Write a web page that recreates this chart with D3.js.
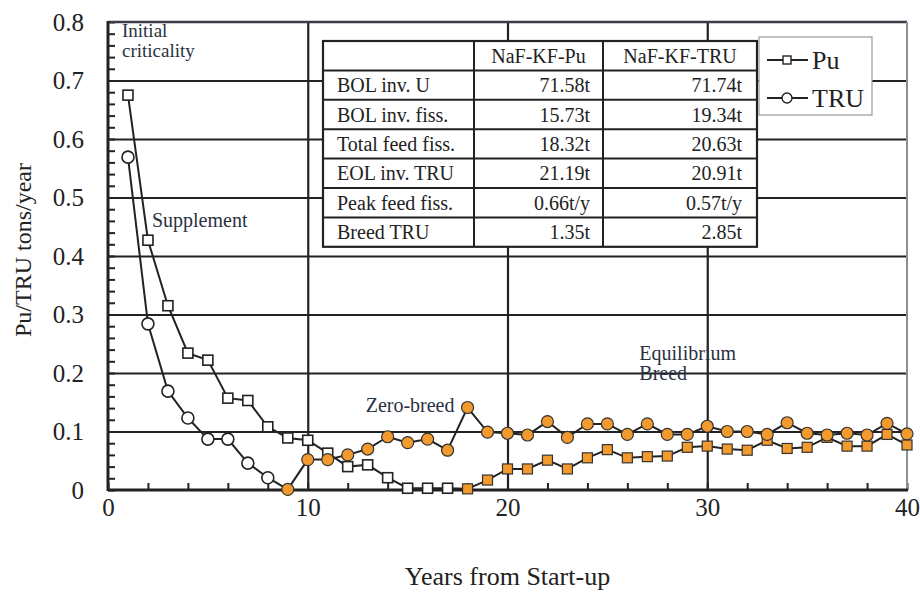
<!DOCTYPE html>
<html><head><meta charset="utf-8">
<script src="https://cdn.jsdelivr.net/npm/d3@7"></script>
<style>
body{margin:0;background:#fff;}
svg text{font-family:"Liberation Serif","Times New Roman","DejaVu Serif",serif;}
</style></head>
<body><svg id="c" width="920" height="592" font-family="Liberation Serif, Times New Roman, serif"></svg>
<script>
// ---- data ----
const years = [1,2,3,4,5,6,7,8,9,10,11,12,13,14,15,16,17,18,19,20,21,22,23,24,25,26,27,28,29,30,31,32,33,34,35,36,37,38,39,40];
const puValues = [0.675,0.427,0.315,0.234,0.222,0.157,0.153,0.108,0.089,0.085,
                  0.063,0.040,0.043,0.021,0.003,0.003,0.003,0.002,0.017,0.036,
                  0.036,0.051,0.036,0.055,0.069,0.055,0.057,0.058,0.073,0.075,
                  0.070,0.068,0.085,0.071,0.073,0.090,0.075,0.075,0.095,0.077];
const truValues = [0.569,0.284,0.169,0.123,0.087,0.087,0.046,0.021,0.001,0.052,
                   0.052,0.060,0.070,0.091,0.081,0.087,0.068,0.141,0.099,0.097,
                   0.094,0.117,0.090,0.113,0.113,0.095,0.113,0.095,0.095,0.109,
                   0.100,0.100,0.095,0.115,0.097,0.094,0.097,0.094,0.114,0.096];
const puFilledFrom = 18;   // year from which Pu markers are filled
const truFilledFrom = 9;   // year from which TRU markers are filled
const xTickLabels = ["0","10","20","30","40"];
const xTickValues = [0,10,20,30,40];
const yTickValues = [0,0.1,0.2,0.3,0.4,0.5,0.6,0.7,0.8];
const yTickLabels = ["0","0.1","0.2","0.3","0.4","0.5","0.6","0.7","0.8"];
const tableHeader = ["", "NaF-KF-Pu", "NaF-KF-TRU"];
const tableLabels = ["BOL inv. U","BOL inv. fiss.","Total feed fiss.","EOL inv. TRU","Peak feed fiss.","Breed TRU"];
const tablePu = ["71.58t","15.73t","18.32t","21.19t","0.66t/y","1.35t"];
const tableTru = ["71.74t","19.34t","20.63t","20.91t","0.57t/y","2.85t"];
const legendLabels = ["Pu","TRU"];

// ---- layout ----
const FONT = "Liberation Serif, Times New Roman, serif";
const L = 108, R = 907, T = 22, B = 490;
const svg = d3.select("#c");
const x = d3.scaleLinear().domain([0,40]).range([L,R]);
const y = d3.scaleLinear().domain([0,0.8]).range([B,T]);
const ink = "#222";
const orange = "#f39a2e";

// gridlines
const grid = svg.append("g");
grid.append("g").attr("transform",`translate(${L},0)`)
  .call(d3.axisLeft(y).tickValues([0.1,0.2,0.3,0.4,0.5,0.6,0.7]).tickSize(-(R-L)).tickFormat(""))
  .call(g=>{g.select(".domain").remove();g.selectAll("line").attr("stroke",ink).attr("stroke-width",2.2);});
grid.append("g").attr("transform",`translate(0,${B})`)
  .call(d3.axisBottom(x).tickValues([10,20,30]).tickSize(-(B-T)).tickFormat(""))
  .call(g=>{g.select(".domain").remove();g.selectAll("line").attr("stroke",ink).attr("stroke-width",2.2);});

// minor ticks
svg.append("g").attr("transform",`translate(${L},0)`)
  .call(d3.axisLeft(y).tickValues(d3.range(0,0.801,0.02)).tickSize(-7).tickFormat(""))
  .call(g=>{g.select(".domain").remove();g.selectAll("line").attr("stroke",ink).attr("stroke-width",2);});
svg.append("g").attr("transform",`translate(0,${B})`)
  .call(d3.axisBottom(x).tickValues(d3.range(0,40.1,2)).tickSize(-7).tickFormat(""))
  .call(g=>{g.select(".domain").remove();g.selectAll("line").attr("stroke",ink).attr("stroke-width",2);});

// frame
svg.append("line").attr("x1",L).attr("x2",R).attr("y1",T).attr("y2",T).attr("stroke","#3a3d44").attr("stroke-width",2.5);
svg.append("line").attr("x1",R).attr("x2",R).attr("y1",T).attr("y2",B).attr("stroke","#8a909a").attr("stroke-width",2);
svg.append("line").attr("x1",L).attr("x2",L).attr("y1",T-1).attr("y2",B+1).attr("stroke",ink).attr("stroke-width",3);
svg.append("line").attr("x1",L).attr("x2",R+1).attr("y1",B).attr("y2",B).attr("stroke",ink).attr("stroke-width",3);

// axis labels
svg.append("g").attr("transform",`translate(${L},0)`)
  .call(d3.axisLeft(y).tickValues(yTickValues).tickSize(0).tickPadding(24).tickFormat((d,i)=>yTickLabels[i]))
  .call(g=>{g.select(".domain").remove();g.attr("font-family",FONT);g.selectAll("text").attr("font-size",25).attr("fill","#222").attr("font-family",FONT);});
svg.append("g").attr("transform",`translate(0,${B})`)
  .call(d3.axisBottom(x).tickValues(xTickValues).tickSize(0).tickPadding(8).tickFormat((d,i)=>xTickLabels[i]))
  .call(g=>{g.select(".domain").remove();g.attr("font-family",FONT);g.selectAll("text").attr("font-size",25).attr("fill","#222").attr("font-family",FONT);});

svg.append("text").attr("x",(L+R)/2).attr("y",585).attr("text-anchor","middle").attr("font-family",FONT)
  .attr("font-size",26).attr("fill","#222").text("Years from Start-up");
svg.append("text").attr("transform",`translate(31,250) rotate(-90)`).attr("text-anchor","middle").attr("font-family",FONT)
  .attr("font-size",24).attr("fill","#222").text("Pu/TRU tons/year");

// series
const line = d3.line().x(d=>x(d.x)).y(d=>y(d.v));
const pu = years.map((yr,i)=>({x:yr,v:puValues[i]}));
const tru = years.map((yr,i)=>({x:yr,v:truValues[i]}));

svg.append("path").datum(pu).attr("d",line).attr("fill","none").attr("stroke",ink).attr("stroke-width",2);
svg.append("g").selectAll("rect").data(pu).join("rect")
  .attr("x",d=>x(d.x)-5).attr("y",d=>y(d.v)-5).attr("width",10).attr("height",10)
  .attr("fill",d=>d.x>=puFilledFrom?orange:"#fff")
  .attr("stroke",d=>d.x>=puFilledFrom?"#333":ink).attr("stroke-width",d=>d.x>=puFilledFrom?1.2:1.6);

svg.append("path").datum(tru).attr("d",line).attr("fill","none").attr("stroke",ink).attr("stroke-width",2);
svg.append("g").selectAll("circle").data(tru).join("circle")
  .attr("cx",d=>x(d.x)).attr("cy",d=>y(d.v)).attr("r",6)
  .attr("fill",d=>d.x>=truFilledFrom?orange:"#fff")
  .attr("stroke",d=>d.x>=truFilledFrom?"#333":ink).attr("stroke-width",d=>d.x>=truFilledFrom?1.2:1.6);

// annotations
const ann = svg.append("g").attr("fill","#2a3142").attr("font-size",20).attr("font-family",FONT);
ann.append("text").attr("x",x(0.7)).attr("y",37).attr("font-size",19).text("Initial");
ann.append("text").attr("x",x(0.7)).attr("y",57).attr("font-size",19).text("criticality");
ann.append("text").attr("x",x(2.2)).attr("y",y(0.45)).text("Supplement");
ann.append("text").attr("x",x(12.9)).attr("y",y(0.133)).text("Zero-breed");
ann.append("text").attr("x",x(26.6)).attr("y",360).text("Equilibrium");
ann.append("text").attr("x",x(26.6)).attr("y",380).text("Breed");

// table
const tx = 323, ty = 41, colW = [151,129,154], rowH = 29.4;
const tbl = svg.append("g");
const tw = d3.sum(colW), th = rowH*7;
tbl.append("rect").attr("x",tx).attr("y",ty).attr("width",tw).attr("height",th).attr("fill","#fff").attr("stroke",ink).attr("stroke-width",2.2);
for(let r=1;r<7;r++) tbl.append("line").attr("x1",tx).attr("x2",tx+tw).attr("y1",ty+r*rowH).attr("y2",ty+r*rowH).attr("stroke",ink).attr("stroke-width",2);
tbl.append("line").attr("x1",tx+colW[0]).attr("x2",tx+colW[0]).attr("y1",ty).attr("y2",ty+th).attr("stroke",ink).attr("stroke-width",2);
tbl.append("line").attr("x1",tx+colW[0]+colW[1]).attr("x2",tx+colW[0]+colW[1]).attr("y1",ty).attr("y2",ty+th).attr("stroke",ink).attr("stroke-width",2);
const tt = tbl.append("g").attr("font-size",20).attr("fill","#222").attr("font-family",FONT);
tt.append("text").attr("x",tx+colW[0]+colW[1]/2).attr("y",ty+rowH/2+7).attr("text-anchor","middle").text(tableHeader[1]);
tt.append("text").attr("x",tx+colW[0]+colW[1]+colW[2]/2).attr("y",ty+rowH/2+7).attr("text-anchor","middle").text(tableHeader[2]);
tableLabels.forEach((lab,i)=>{
  const by = ty+(i+1)*rowH+rowH/2+7;
  tt.append("text").attr("x",tx+14).attr("y",by).text(lab);
  tt.append("text").attr("x",tx+colW[0]+colW[1]-13).attr("y",by).attr("text-anchor","end").text(tablePu[i]);
  tt.append("text").attr("x",tx+tw-15).attr("y",by).attr("text-anchor","end").text(tableTru[i]);
});

// legend
const lg = svg.append("g");
lg.append("rect").attr("x",759).attr("y",37).attr("width",113).attr("height",78).attr("fill","#fff").attr("stroke","#9a9a9a").attr("stroke-width",1.2);
[60,98].forEach((ly,i)=>{
  lg.append("line").attr("x1",767).attr("x2",808).attr("y1",ly).attr("y2",ly).attr("stroke",ink).attr("stroke-width",2.2);
  if(i===0) lg.append("rect").attr("x",783).attr("y",ly-4).attr("width",8).attr("height",8).attr("fill","#fff").attr("stroke",ink).attr("stroke-width",1.4);
  else lg.append("circle").attr("cx",787).attr("cy",ly).attr("r",5).attr("fill","#fff").attr("stroke",ink).attr("stroke-width",1.4);
  lg.append("text").attr("x",812).attr("y",ly+9).attr("font-size",26).attr("fill","#222").attr("font-family",FONT).text(legendLabels[i]);
});
</script></body></html>
